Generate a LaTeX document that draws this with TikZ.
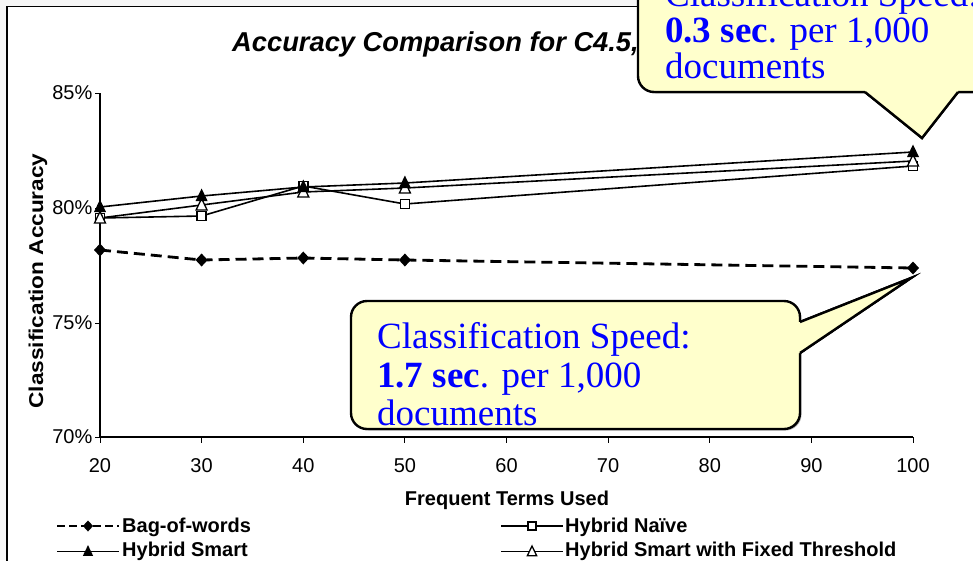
\documentclass[tikz,border=0pt]{standalone}
\usepackage{fontspec}
\setmainfont{Liberation Serif}
\setsansfont{Liberation Sans}
\definecolor{calloutfill}{HTML}{FFFFCC}
\definecolor{calloutblue}{HTML}{0000FF}
\begin{document}
\begin{tikzpicture}[x=1pt,y=-1pt,
  frame/.style={line width=1.6pt},
  axisln/.style={line width=1.2pt},
  tickln/.style={line width=1pt},
  series/.style={line width=1.6pt,line join=round},
  bowline/.style={line width=2.8pt,dash pattern=on 11pt off 6pt},
  legdash/.style={line width=2.8pt,dash pattern=on 8pt off 4pt},
  numlbl/.style={inner sep=0pt,font=\sffamily\fontsize{20}{24}\selectfont},
  boldlbl/.style={inner sep=0pt,font=\sffamily\bfseries\fontsize{20}{24}\selectfont},
  titlelbl/.style={inner sep=0pt,font=\sffamily\bfseries\itshape\fontsize{27.3}{30}\selectfont},
  callouttxt/.style={inner sep=0pt,text=calloutblue,font=\rmfamily\fontsize{37}{40}\selectfont},
  calloutbody/.style={fill=calloutfill,draw=black,line width=2.4pt},
  calloutshadow/.style={fill=black!30},
  mkdia/.pic={\fill[black] (0,-6.5) -- (6,0) -- (0,6.5) -- (-6,0) -- cycle;},
  mktri/.pic={\fill[black] (0,-7.5) -- (6,5) -- (-6,5) -- cycle;},
  mkotri/.pic={\filldraw[fill=white,draw=black,line width=1.3pt,line join=miter] (0,-6.5) -- (5.5,5) -- (-5.5,5) -- cycle;},
  mksq/.pic={\filldraw[fill=white,draw=black,line width=1.5pt] (-4.5,-4.5) rectangle (4.5,4.5);}
]
\useasboundingbox (0,0) rectangle (973,560);
\clip (0,0) rectangle (973,560);

% page and chart frame
\fill[white] (0,0) rectangle (973,560);
\fill[gray!7] (0,0) rectangle (973,6);
\fill[gray!7] (0,0) rectangle (7,560);
\draw[frame] (7,561) -- (7,6.5) -- (974,6.5);

% title
\node[titlelbl,anchor=base west] (title) at (232,51) {Accuracy Comparison for C4.5,};

% axes
\draw[axisln] (100,93) -- (100,437) -- (913,437);
\foreach \yv/\lab in {93/85\%,208/80\%,323/75\%,437/70\%}{
  \draw[tickln] (95,\yv) -- (100,\yv);
  \node[numlbl,anchor=east] at (92.5,\yv) {\lab};
}
\foreach \xv/\lab in {100/20,201.6/30,303.3/40,404.9/50,506.5/60,608.1/70,709.8/80,811.4/90,913/100}{
  \draw[tickln] (\xv,437) -- (\xv,443);
  \node[numlbl] at (\xv,466) {\lab};
}
\node[boldlbl,anchor=base] (xlab) at (507,505) {Frequent Terms Used};
\node[boldlbl,rotate=90,anchor=base] (ylab) at (43,281) {\scalebox{1.13}[1]{Classification Accuracy}};

% data series
\draw[bowline] (100,250) -- (201.6,260) -- (303.3,258) -- (404.9,260) -- (913,268);
\draw[series] (100,218) -- (201.6,216) -- (303.3,186) -- (404.9,204) -- (913,166);
\draw[series] (100,218) -- (201.6,205) -- (303.3,192) -- (404.9,188) -- (913,161);
\draw[series] (100,207) -- (201.6,196) -- (303.3,187) -- (404.9,183) -- (913,152);

\foreach \xv/\yv in {100/250,201.6/260,303.3/258,404.9/260,913/268}{\pic at (\xv,\yv) {mkdia};}
\foreach \xv/\yv in {100/218,201.6/216,303.3/186,404.9/204,913/166}{\pic at (\xv,\yv) {mksq};}
\foreach \xv/\yv in {100/218,201.6/205,303.3/192,404.9/188,913/161}{\pic at (\xv,\yv) {mkotri};}
\foreach \xv/\yv in {100/207,201.6/196,303.3/187,404.9/183,913/152}{\pic at (\xv,\yv) {mktri};}

% legend
\draw[legdash] (57,526) -- (119,526);
\pic[scale=0.85] at (88,526) {mkdia};
\node[boldlbl,anchor=base west] (leg1) at (122,532.5) {Bag-of-words};
\draw[series] (501,526) -- (563,526);
\pic[scale=0.85] at (532,526) {mksq};
\node[boldlbl,anchor=base west] (leg2) at (565,532.5) {Hybrid Naïve};
\draw[series] (57,551.5) -- (119,551.5);
\pic[scale=0.85] at (88,551.5) {mktri};
\node[boldlbl,anchor=base west] (leg3) at (122,556.5) {Hybrid Smart};
\draw[series] (501,551.5) -- (563,551.5);
\pic[scale=0.85] at (532,551.5) {mkotri};
\node[boldlbl,anchor=base west] (leg4) at (565,556.5) {Hybrid Smart with Fixed Threshold};

% callout for Bag-of-words speed
\coordinate (b1) at (800,322);
\coordinate (btip) at (911,278);
\coordinate (b2) at (800,353);
\fill[calloutshadow] (352.5,302.5) [rounded corners=16pt] rectangle (801.5,430.5);
\filldraw[calloutbody] (b1) -- (btip) -- (b2) -- cycle;
\filldraw[calloutbody,rounded corners=16pt] (351,301) rectangle (800,429);
\fill[calloutfill] (b1) -- (btip) -- (b2) -- ([xshift=-6pt]b2) -- ([xshift=-6pt]b1) -- cycle;
\draw[line width=2.4pt,line join=miter] (b1) -- (btip) -- (b2);
\node[callouttxt,anchor=base west] (s1a) at (377,348) {Classification Speed:};
\node[callouttxt,anchor=base west] (s1b) at (377,387) {\textbf{1.7 sec}. per 1,000};
\node[callouttxt,anchor=base west] (s1c) at (377,425) {documents};

% callout for hybrid speed
\coordinate (t1) at (865,92);
\coordinate (ttip) at (922,138);
\coordinate (t2) at (958,92);
\fill[calloutshadow] (639.5,-40) [rounded corners=16pt] rectangle (1011,93.5);
\filldraw[calloutbody] (t1) -- (ttip) -- (t2) -- cycle;
\filldraw[calloutbody,rounded corners=16pt] (638,-40) rectangle (1010,92);
\fill[calloutfill] (t1) -- (ttip) -- (t2) -- ([yshift=6pt]t2) -- ([yshift=6pt]t1) -- cycle;
\draw[line width=2.4pt,line join=miter] (t1) -- (ttip) -- (t2);
\node[callouttxt,anchor=base west] (s2a) at (665,6.5) {Classification Speed:};
\node[callouttxt,anchor=base west] (s2b) at (665,42.5) {\textbf{0.3 sec}. per 1,000};
\node[callouttxt,anchor=base west] (s2c) at (665,78.5) {documents};
\end{tikzpicture}
\end{document}
